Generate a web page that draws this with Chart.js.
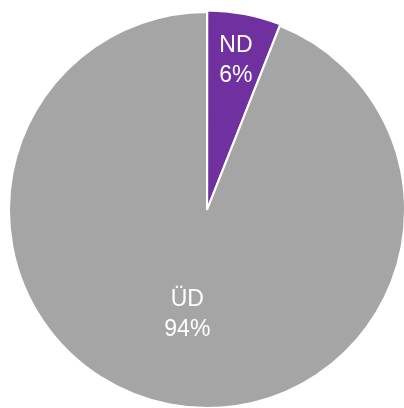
<!DOCTYPE html>
<html><head><meta charset="utf-8">
<script src="https://cdn.jsdelivr.net/npm/chart.js@4.4.0/dist/chart.umd.min.js"></script>
<style>html,body{margin:0;padding:0;background:#fff;overflow:hidden;width:404px;height:408px;}#wrap{width:402px;height:402px;position:absolute;left:6px;top:9px;}</style>
</head><body><div id="wrap"><canvas id="c"></canvas></div>
<script>
const categories = ['ND', 'ÜD'];
const values = [6, 94];
const valueLabels = ['6%', '94%'];
const colors = ['#7030A0', '#A5A5A5'];
const labelRadiusFrac = [0.78, 0.53];

const labelPlugin = {
  id: 'sliceLabels',
  afterDatasetsDraw(chart) {
    const ctx = chart.ctx;
    const meta = chart.getDatasetMeta(0);
    ctx.save();
    ctx.fillStyle = '#ffffff';
    ctx.font = '23px "Liberation Sans", Arial, sans-serif';
    ctx.textAlign = 'center';
    ctx.textBaseline = 'middle';
    meta.data.forEach((arc, i) => {
      const p = arc.getProps(['x','y','startAngle','endAngle','outerRadius'], true);
      const mid = (p.startAngle + p.endAngle) / 2;
      const r = p.outerRadius * labelRadiusFrac[i];
      const x = p.x + Math.cos(mid) * r;
      const y = p.y + Math.sin(mid) * r;
      ctx.fillText(categories[i], x, y - 13);
      ctx.fillText(valueLabels[i], x, y + 17);
    });
    ctx.restore();
  }
};

new Chart(document.getElementById('c'), {
  type: 'pie',
  data: {
    labels: categories,
    datasets: [{
      data: values,
      backgroundColor: colors,
      borderColor: '#ffffff',
      borderWidth: 2,
      offset: [4, 0]
    }]
  },
  options: {
    responsive: true,
    maintainAspectRatio: false,
    animation: false,
    layout: { padding: 0 },
    plugins: { legend: { display: false }, tooltip: { enabled: false } }
  },
  plugins: [labelPlugin]
});
</script></body></html>
